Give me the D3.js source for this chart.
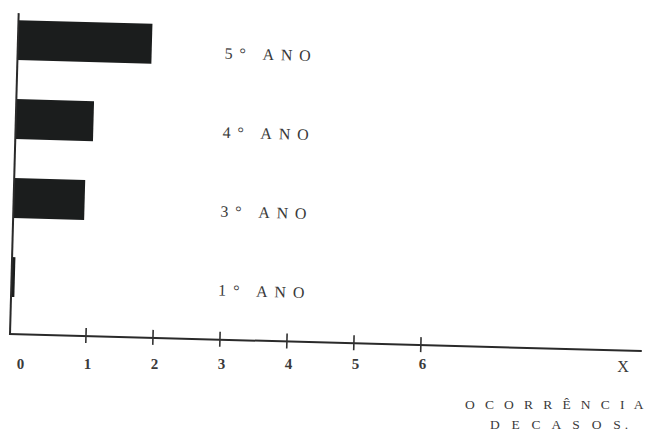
<!DOCTYPE html>
<html><head><meta charset="utf-8">
<script src="https://cdn.jsdelivr.net/npm/d3@7"></script>
<style>
html,body{margin:0;padding:0;background:#fff;}
svg{display:block;}
text{font-family:"Liberation Serif","DejaVu Serif",serif;fill:#3a3a3a;}
</style>
</head><body>
<svg id="c" width="648" height="432"></svg>
<script>
const categories = ["5° ANO", "4° ANO", "3° ANO", "1° ANO"];
const values = [2.0, 1.16, 1.06, 0.05];
const tickValues = [0, 1, 2, 3, 4, 5, 6];
const tickLabels = ["0", "1", "2", "3", "4", "5", "6"];
const axisEndLabel = "X";
const axisTitle = ["O C O R R Ê N C I A", "D E C A S O S."];

const svg = d3.select("#c");
const origin = [10, 334];
const angle = 1.55;
const tickShift = 9;

const x = d3.scaleLinear().domain([0, 6]).range([0, 402]);
const y = d3.scaleBand().domain(categories)
  .range([-333.5, -17.5]).paddingInner(0.494).paddingOuter(0.247);

const g = svg.append("g")
  .attr("transform", `translate(${origin[0]},${origin[1]}) rotate(${angle})`);

// bars
g.selectAll("rect.bar").data(categories).join("rect")
  .attr("class", "bar")
  .attr("x", 0)
  .attr("y", d => y(d))
  .attr("width", (d, i) => x(values[i]) - x(0))
  .attr("height", y.bandwidth())
  .attr("fill", "#1b1d1d");

// axes lines
g.append("line").attr("x1", 0).attr("y1", 0).attr("x2", 0).attr("y2", -321)
  .attr("stroke", "#2a2a2a").attr("stroke-width", 2);
g.append("line").attr("x1", -1).attr("y1", 0).attr("x2", 632).attr("y2", 0)
  .attr("stroke", "#2a2a2a").attr("stroke-width", 2);

// tick marks
const tg = g.append("g").attr("transform", `translate(${tickShift},0)`);
tg.selectAll("line").data(tickValues.filter(v => v > 0)).join("line")
  .attr("x1", d => x(d)).attr("x2", d => x(d))
  .attr("y1", -8).attr("y2", 7)
  .attr("stroke", "#333").attr("stroke-width", 1.6);

// category labels
g.selectAll("text.cat").data(categories).join("text")
  .attr("class", "cat")
  .attr("x", 207)
  .attr("y", d => y(d) + y.bandwidth() / 2 + 13)
  .attr("font-size", 16)
  .attr("letter-spacing", "6.8px")
  .text(d => d);

// tick labels (horizontal, page frame)
svg.selectAll("text.tick").data(tickValues).join("text")
  .attr("class", "tick")
  .attr("x", d => origin[0] + tickShift + x(d) + 1.5)
  .attr("y", 369)
  .attr("text-anchor", "middle")
  .attr("font-size", 15)
  .attr("font-weight", "bold")
  .text((d, i) => tickLabels[i]);

svg.append("text").attr("x", 623).attr("y", 372)
  .attr("text-anchor", "middle").attr("font-size", 16).text(axisEndLabel);

svg.append("text").attr("x", 465).attr("y", 409)
  .attr("font-size", 13.5).attr("letter-spacing", "3.4px").text(axisTitle[0]);
svg.append("text").attr("x", 490).attr("y", 429)
  .attr("font-size", 13.5).attr("letter-spacing", "4.2px").text(axisTitle[1]);
</script>
</body></html>
